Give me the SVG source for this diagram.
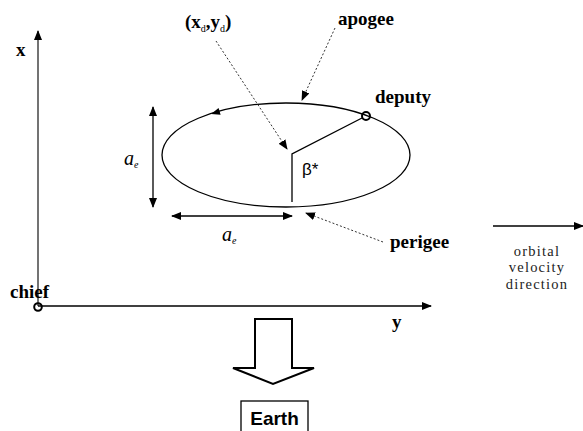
<svg xmlns="http://www.w3.org/2000/svg" width="583" height="431" viewBox="0 0 583 431">
<defs>
<marker id="ah" markerWidth="10" markerHeight="8" refX="9" refY="4" orient="auto" markerUnits="userSpaceOnUse">
<path d="M0,0 L10,4 L0,8 Z" fill="#000"/>
</marker>
<marker id="ahs" markerWidth="10" markerHeight="8" refX="1" refY="4" orient="auto" markerUnits="userSpaceOnUse">
<path d="M10,0 L0,4 L10,8 Z" fill="#000"/>
</marker>
</defs>
<style>
.ln{stroke:#000;stroke-width:1.3;fill:none}
.ax{stroke:#444;stroke-width:1.5;fill:none}
.dot{stroke:#333;stroke-width:1;fill:none;stroke-dasharray:2,2}
.lb{font-family:"Liberation Serif",serif;font-weight:bold;font-size:19px;fill:#000}
.vel{font-family:"Liberation Serif",serif;font-size:14.5px;letter-spacing:1.2px;fill:#222}
.it{font-family:"Liberation Serif",serif;font-style:italic;font-size:20px;fill:#000}
.sub{font-size:10px}
</style>
<rect width="583" height="431" fill="#fff"/>

<g id="axes">
<line class="ax" x1="38" y1="306" x2="38" y2="31" marker-end="url(#ah)"/>
<line class="ln" x1="38" y1="306" x2="431" y2="306" marker-end="url(#ah)"/>
<text class="lb" x="16" y="56">x</text>
<text class="lb" x="392" y="328">y</text>
</g>

<g id="chief">
<circle cx="38" cy="307" r="3.8" fill="none" stroke="#000" stroke-width="2"/>
<text class="lb" x="10" y="298">chief</text>
</g>

<g id="orbit">
<ellipse class="ln" cx="286" cy="155" rx="124" ry="52"/>
<path d="M211,114 L220.6,114.7 L218.6,108.1 Z" fill="#000"/>
</g>

<g id="deputy">
<circle cx="366" cy="116" r="4" fill="none" stroke="#000" stroke-width="2"/>
<text class="lb" x="375" y="103">deputy</text>
</g>

<g id="angle">
<polyline class="ln" points="292,202 292,154 362,118"/>
<text x="302" y="175" style="font-family:'Liberation Sans',sans-serif;font-size:17px">β*</text>
</g>

<g id="dims">
<line class="ln" x1="153" y1="207" x2="153" y2="107" marker-start="url(#ahs)" marker-end="url(#ah)"/>
<text class="it" x="124" y="165">a<tspan class="sub" dy="3">e</tspan></text>
<line class="ln" x1="172" y1="216" x2="292" y2="216" marker-start="url(#ahs)" marker-end="url(#ah)"/>
<text class="it" x="222" y="241">a<tspan class="sub" dy="3">e</tspan></text>
</g>

<g id="labels">
<text class="lb" x="185" y="28">(x<tspan class="sub" dy="4" style="font-weight:normal">d</tspan><tspan dy="-4">,y</tspan><tspan class="sub" dy="4" style="font-weight:normal">d</tspan><tspan dy="-4">)</tspan></text>
<text class="lb" x="338" y="25">apogee</text>
<text class="lb" x="390" y="248">perigee</text>
</g>

<g id="connectors">
<line class="dot" x1="216" y1="41" x2="287" y2="149" marker-end="url(#ah)"/>
<line class="dot" x1="335" y1="28" x2="302" y2="100" marker-end="url(#ah)"/>
<line class="dot" x1="383" y1="242" x2="306" y2="213" marker-end="url(#ah)"/>
</g>

<g id="velocity">
<line class="ln" x1="493" y1="226" x2="583" y2="226" marker-end="url(#ah)"/>
<text class="vel" x="537" y="256" text-anchor="middle">orbital</text>
<text class="vel" x="537" y="272" text-anchor="middle">velocity</text>
<text class="vel" x="537" y="289" text-anchor="middle">direction</text>
</g>

<g id="earth-arrow">
<path d="M255,319 L292,319 L292,368 L314,368 L273,384 L233,368 L255,368 Z" fill="#fff" stroke="#000" stroke-width="2"/>
</g>

<g id="earth">
<rect x="241" y="401" width="67" height="35" fill="#fff" stroke="#000" stroke-width="1.3"/>
<text x="274.5" y="425" text-anchor="middle" style="font-family:'Liberation Sans',sans-serif;font-weight:bold;font-size:19px">Earth</text>
</g>
</svg>
